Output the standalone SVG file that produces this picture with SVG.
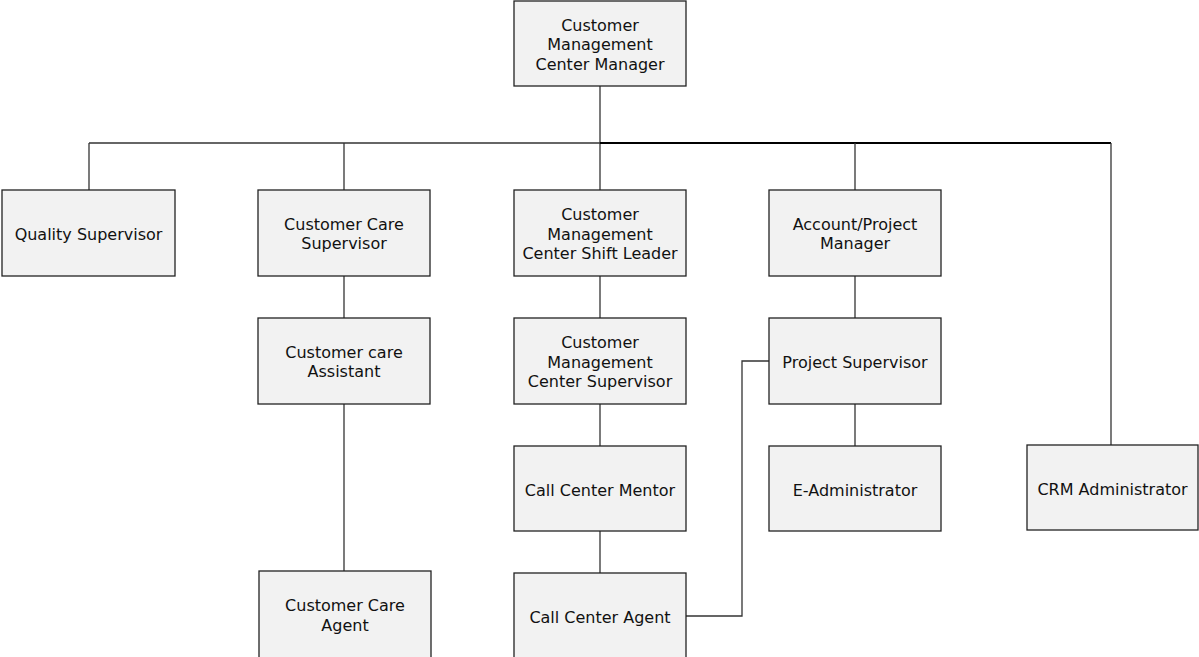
<svg xmlns="http://www.w3.org/2000/svg" width="1199" height="657" viewBox="0 0 1199 657">
  <style>
    .box { fill: #f2f2f2; stroke: #222; stroke-width: 1.3; }
    .lbl { font-family: "DejaVu Sans", Verdana, sans-serif; font-size: 16px; fill: #111; text-anchor: middle; }
    .wire { fill: none; stroke: #333; stroke-width: 1.3; }
    .bus { fill: none; stroke: #000; stroke-width: 2.2; }
  </style>
  <rect width="1199" height="657" fill="#fff"/>

  <!-- reporting lines -->
  <g id="connectors">
    <path class="wire" d="M600 86 V190"/>
    <path class="wire" d="M89 143 H600"/>
    <path class="bus" d="M600 143 H1111"/>
    <path class="wire" d="M89 143 V190"/>
    <path class="wire" d="M344 143 V190"/>
    <path class="wire" d="M855 143 V190"/>
    <path class="wire" d="M1111 143 V445"/>
    <path class="wire" d="M344 276 V318"/>
    <path class="wire" d="M344 404 V571"/>
    <path class="wire" d="M600 276 V318"/>
    <path class="wire" d="M600 404 V446"/>
    <path class="wire" d="M600 531 V573"/>
    <path class="wire" d="M855 276 V318"/>
    <path class="wire" d="M855 404 V446"/>
    <path class="wire" d="M686 616 H742 V361 H769"/>
  </g>

  <g id="cmc-manager">
    <rect class="box" x="514" y="1" width="172" height="85"/>
    <text class="lbl" x="600" y="30.5">Customer</text>
    <text class="lbl" x="600" y="50">Management</text>
    <text class="lbl" x="600" y="69.5">Center Manager</text>
  </g>

  <g id="quality-supervisor">
    <rect class="box" x="2" y="190" width="173" height="86"/>
    <text class="lbl" x="88.5" y="239.5">Quality Supervisor</text>
  </g>

  <g id="customer-care-supervisor">
    <rect class="box" x="258" y="190" width="172" height="86"/>
    <text class="lbl" x="344" y="229.5">Customer Care</text>
    <text class="lbl" x="344" y="249">Supervisor</text>
  </g>

  <g id="shift-leader">
    <rect class="box" x="514" y="190" width="172" height="86"/>
    <text class="lbl" x="600" y="220">Customer</text>
    <text class="lbl" x="600" y="239.5">Management</text>
    <text class="lbl" x="600" y="259">Center Shift Leader</text>
  </g>

  <g id="account-project-manager">
    <rect class="box" x="769" y="190" width="172" height="86"/>
    <text class="lbl" x="855" y="229.5">Account/Project</text>
    <text class="lbl" x="855" y="249">Manager</text>
  </g>

  <g id="customer-care-assistant">
    <rect class="box" x="258" y="318" width="172" height="86"/>
    <text class="lbl" x="344" y="357.5">Customer care</text>
    <text class="lbl" x="344" y="377">Assistant</text>
  </g>

  <g id="cmc-supervisor">
    <rect class="box" x="514" y="318" width="172" height="86"/>
    <text class="lbl" x="600" y="348">Customer</text>
    <text class="lbl" x="600" y="367.5">Management</text>
    <text class="lbl" x="600" y="387">Center Supervisor</text>
  </g>

  <g id="project-supervisor">
    <rect class="box" x="769" y="318" width="172" height="86"/>
    <text class="lbl" x="855" y="367.5">Project Supervisor</text>
  </g>

  <g id="call-center-mentor">
    <rect class="box" x="514" y="446" width="172" height="85"/>
    <text class="lbl" x="600" y="495.5">Call Center Mentor</text>
  </g>

  <g id="e-administrator">
    <rect class="box" x="769" y="446" width="172" height="85"/>
    <text class="lbl" x="855" y="495.5">E-Administrator</text>
  </g>

  <g id="crm-administrator">
    <rect class="box" x="1027" y="445" width="171" height="85"/>
    <text class="lbl" x="1112.5" y="494.5">CRM Administrator</text>
  </g>

  <g id="customer-care-agent">
    <rect class="box" x="259" y="571" width="172" height="90"/>
    <text class="lbl" x="345" y="611">Customer Care</text>
    <text class="lbl" x="345" y="630.5">Agent</text>
  </g>

  <g id="call-center-agent">
    <rect class="box" x="514" y="573" width="172" height="88"/>
    <text class="lbl" x="600" y="622.5">Call Center Agent</text>
  </g>
</svg>
